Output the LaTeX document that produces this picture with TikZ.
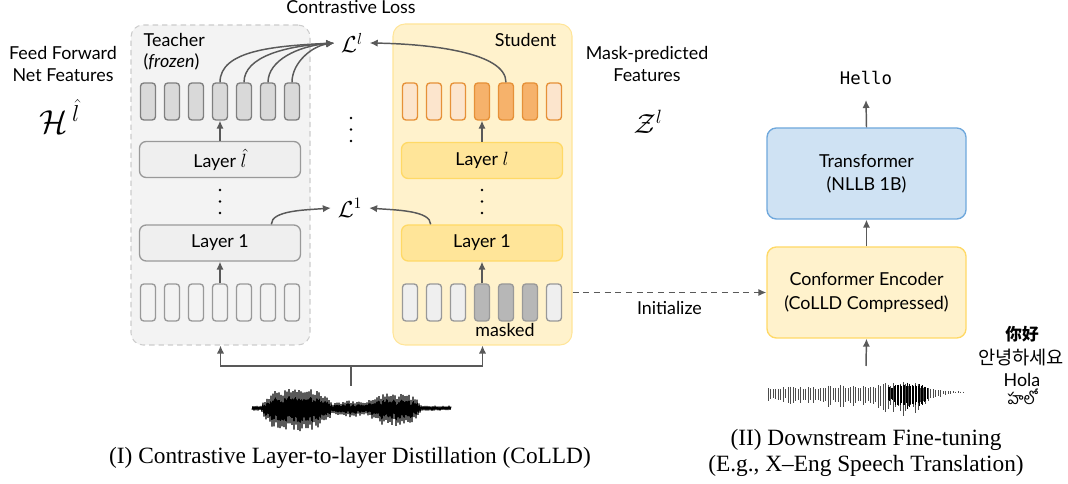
\documentclass[tikz,border=0pt]{standalone}
\usepackage{amsmath}
\usepackage{amssymb}
\usepackage{fontspec}
\setmainfont{Liberation Serif}
\setsansfont{Lato}
\setmonofont{DejaVu Sans Mono}
\newfontfamily\cjkfont{Noto Sans CJK SC}
\newfontfamily\korfont{Noto Sans CJK KR}
\newfontfamily\telfont[Script=Telugu]{Hind Guntur}
\usepackage{xcolor}
\usetikzlibrary{arrows.meta}

\definecolor{arrowgray}{HTML}{595959}
\definecolor{teachfill}{HTML}{F3F3F3}
\definecolor{teachline}{HTML}{CCCCCC}
\definecolor{layergray}{HTML}{EFEFEF}
\definecolor{boxgray}{HTML}{999999}
\definecolor{featgray}{HTML}{D9D9D9}
\definecolor{featline}{HTML}{7F7F7F}
\definecolor{maskgray}{HTML}{B7B7B7}
\definecolor{studfill}{HTML}{FFF2CC}
\definecolor{studline}{HTML}{FFE599}
\definecolor{layeryellow}{HTML}{FFE599}
\definecolor{yellowline}{HTML}{FFD966}
\definecolor{orangelight}{HTML}{FCE5CD}
\definecolor{orangedark}{HTML}{F6B26B}
\definecolor{orangeline}{HTML}{E69138}
\definecolor{bluefill}{HTML}{CFE2F3}
\definecolor{blueline}{HTML}{6FA8DC}

\begin{document}
\begin{tikzpicture}[x=0.75pt,y=-0.75pt,
    font=\sffamily\fontsize{13.4}{15.5}\selectfont,
    arr/.style={draw=arrowgray, line width=1.1pt, -{Latex[length=6pt,width=5.5pt]}},
    panel/.style={rectangle, rounded corners=9pt, minimum width=134.25pt, line width=0.8pt},
    cellbox/.style={rectangle, rounded corners=2.5pt, minimum width=11.25pt, minimum height=27.75pt, inner sep=0pt, line width=1pt},
    layerbox/.style={rectangle, rounded corners=5pt, minimum width=120.75pt, minimum height=27pt, line width=1pt},
    bigbox/.style={rectangle, rounded corners=7pt, minimum width=149.25pt, minimum height=68.25pt, align=center, line width=1pt},
    lossmath/.style={inner xsep=5pt, inner ysep=1pt, font=\fontsize{18.5}{21}\selectfont},
    featmath/.style={inner sep=0pt},
    caption/.style={font=\rmfamily\fontsize{17.5}{19.5}\selectfont, align=center},
    vdots/.style={circle, fill=black, inner sep=0pt, minimum size=2.2pt}]

\useasboundingbox (0,0) rectangle (1068,484);

% panels
\node[panel, fill=teachfill, draw=teachline, dash pattern=on 4pt off 3pt, minimum height=240pt] (tp) at (220.5,185) {};
\node[panel, fill=studfill, draw=studline, minimum height=240.75pt] (sp) at (482.5,184.5) {};

\node[anchor=base] (closs) at (351,14) {Contrastive Loss};
\node[anchor=base west] (tname) at (139,47) {Teacher};
\node[anchor=base west] (tfrozen) at (139,68) {(\textit{frozen})};
\node[anchor=base east] (sname) at (561,47) {Student};

% feature cells
\foreach \i in {1,...,7} {
  \node[cellbox, fill=featgray, draw=featline] (t\i) at ({148+24*(\i-1)},101.5) {};
  \node[cellbox, fill=teachfill, draw=boxgray] (tb\i) at ({148+24*(\i-1)},302.5) {};
}
\foreach \i in {1,2,3,7} {
  \node[cellbox, fill=orangelight, draw=orangeline] (s\i) at ({410+24*(\i-1)},101.5) {};
  \node[cellbox, fill=layergray, draw=boxgray] (sb\i) at ({410+24*(\i-1)},302.5) {};
}
\foreach \i in {4,5,6} {
  \node[cellbox, fill=orangedark, draw=orangeline] (s\i) at ({410+24*(\i-1)},101.5) {};
  \node[cellbox, fill=maskgray, draw=boxgray] (sb\i) at ({410+24*(\i-1)},302.5) {};
}
\node[anchor=base, inner sep=1pt] (masked) at (505,337) {masked};

% layers
\node[layerbox, fill=layergray, draw=boxgray] (tl) at (220,159.5) {Layer $\hat{l}$};
\node[layerbox, fill=layergray, draw=boxgray] (tl1) at (220,243) {Layer 1};
\node[layerbox, fill=layeryellow, draw=yellowline] (sl) at (482,160.5) {Layer $l$};
\node[layerbox, fill=layeryellow, draw=yellowline] (sl1) at (482,243) {Layer 1};

\foreach \x in {220,482} {
  \foreach \y in {190,201.5,213} \node[vdots] at (\x,\y) {};
}
\foreach \y in {118,129.5,141} \node[vdots] at (351,\y) {};

\draw[arr] (tl.north -| t4) -- (t4.south);
\draw[arr] (tb4.north) -- (tl1.south -| tb4);
\draw[arr] (sl.north -| s4) -- (s4.south);
\draw[arr] (sb4.north) -- (sl1.south -| sb4);

% losses
\node[lossmath] (Ll) at (352,43) {$\mathcal{L}^{l}$};
\node[lossmath] (L1) at (350,208) {$\mathcal{L}^{1}$};

\draw[arr] (t4.north) .. controls +(0,-32) and +(-60,3) .. (Ll.west);
\draw[arr] (t5.north) .. controls +(0,-26) and +(-48,3) .. (Ll.west);
\draw[arr] (t6.north) .. controls +(0,-22) and +(-36,3) .. (Ll.west);
\draw[arr] (t7.north) .. controls +(0,-20) and +(-22,3) .. (Ll.west);
\draw[arr] (s5.north) .. controls +(0,-30) and +(60,1) .. (Ll.east);
\draw[arr] (tl1.20) .. controls +(0,-14) and +(-25,2) .. (L1.west);
\draw[arr] (sl1.160) .. controls +(0,-14) and +(25,2) .. (L1.east);

% side labels
\node[anchor=base, align=center, inner sep=0pt] (ffn) at (63,82) {Feed Forward\\[1pt]Net Features};
\node[anchor=base, featmath, font=\fontsize{23}{25}\selectfont] (hfeat) at (60,134) {$\mathcal{H}^{\,\hat{l}}$};
\node[anchor=base, align=center, inner sep=0pt] (mpf) at (647,82) {Mask-predicted\\[1pt]Features};
\node[anchor=base, featmath, font=\fontsize{19.5}{22}\selectfont] (zfeat) at (648,134) {$\mathcal{Z}^{l}$};

% input waveform
\coordinate (wtop) at (351,386);
\coordinate (split) at (351,366);
\draw[draw=arrowgray, line width=1.1pt] (wtop) -- (split);
\draw[arr] (split) -| (tp.south);
\draw[arr] (split) -| (sp.south);
\draw[black, line width=0.8pt, line join=bevel] plot[domain=0:199, samples=200]
  ({252+\x}, {408 + (2.5 + 19*max(0,1-abs((\x-45)/36)^4) + 14*max(0,1-abs((\x-142)/28)^4)
     + 6*max(0,1-abs((\x-98)/22)^2))*(0.6+0.4*rnd)*(cos(180*mod(round(\x),2))+0.1)});

% right part
\node[bigbox, fill=bluefill, draw=blueline] (trans) at (866.5,173.5) {Transformer\\[2pt](NLLB 1B)};
\node[bigbox, fill=studfill, draw=yellowline] (enc) at (866.5,292.5) {Conformer Encoder\\[2pt](CoLLD Compressed)};
\node[anchor=base, font=\ttfamily\fontsize{13}{15}\selectfont] (hello) at (866,85) {Hello};
\coordinate (wtop2) at (866,366);
\draw[arr] (enc.north) -- (trans.south);
\draw[arr] (trans.north) -- (hello.south |- 0,100);
\draw[arr] (wtop2) -- (enc.south);
\draw[arr, dash pattern=on 4.5pt off 3.5pt] (sp.east |- enc.west) -- node[below=5pt, inner sep=1pt] (init) {Initialize} (enc.west);

\foreach \x in {768,770.5,...,964} {
  \pgfmathsetmacro{\amp}{(7+7*max(0,1-abs((\x-850)/90)^2)+9*max(0,1-abs((\x-905)/30)^2))*(0.5+0.5*rnd)*min(1,(966-\x)/45)}
  \draw[black!70, line width=0.5pt] (\x,{392-0.5*\amp}) -- (\x,{392+1.15*\amp});
}
\foreach \x in {888,889.5,...,928} {
  \pgfmathsetmacro{\amp}{(8+8*max(0,1-abs((\x-908)/20)^2))*(0.6+0.4*rnd)}
  \draw[black, line width=0.55pt] (\x,{392-0.6*\amp}) -- (\x,{392+1.1*\amp});
}

\node[anchor=base, inner sep=1pt, font=\cjkfont\bfseries\fontsize{12.5}{14}\selectfont] (zh) at (1022,341) {你好};
\node[anchor=base, inner sep=1pt, font=\korfont\fontsize{14}{16}\selectfont] (ko) at (1021,365) {안녕하세요};
\node[anchor=base, inner sep=1pt] (es) at (1022,387) {Hola};
\node[anchor=base, inner sep=1pt, font=\telfont\fontsize{12}{14}\selectfont] (te) at (1022,405) {హలో};

% captions
\node[caption] (capone) at (350,458) {(I) Contrastive Layer-to-layer Distillation (CoLLD)};
\node[caption] (captwo) at (866,453) {(II) Downstream Fine-tuning\\(E.g., X--Eng Speech Translation)};
\end{tikzpicture}
\end{document}
